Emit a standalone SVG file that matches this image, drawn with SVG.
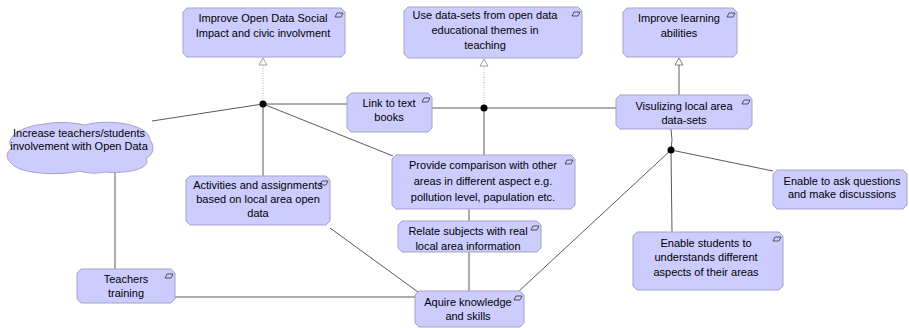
<svg xmlns="http://www.w3.org/2000/svg" xmlns:xlink="http://www.w3.org/1999/xlink" width="909" height="328" viewBox="0 0 909 328">
  <style>
    .node { fill: #ccccff; stroke: #a3a3c8; stroke-width: 1; }
    .lbl { font-family: "Liberation Sans", Arial, sans-serif; font-size: 11px; fill: #000; text-anchor: middle; }
    .ln { stroke: #5a5a5a; stroke-width: 1; fill: none; }
    .dot { stroke: #b0b0b0; stroke-width: 1; fill: none; stroke-dasharray: 1 1.5; }
    .icon { fill: none; stroke: #333; stroke-width: 0.8; }
  </style>
  <defs>
    <!-- requirement icon shown in the upper-right corner of a box -->
    <path id="req" class="icon" d="M -8,5 L -6,1 L 0,1 L -2,5 Z"/>
  </defs>

  <g id="connectors">
    <!-- realisation links up to the goals -->
    <line class="dot" x1="263" y1="104" x2="263" y2="59"/>
    <path d="M 263,58 L 267,65 L 259,65 Z" fill="#fff" stroke="#888" stroke-width="0.8"/>
    <line class="dot" x1="484" y1="108" x2="484" y2="60"/>
    <path d="M 484,59 L 488,66 L 480,66 Z" fill="#fff" stroke="#888" stroke-width="0.8"/>
    <line class="ln" x1="679" y1="95" x2="679" y2="59"/>
    <path d="M 679,58 L 683,65 L 675,65 Z" fill="#fff" stroke="#666" stroke-width="0.8"/>

    <!-- junction left -->
    <line class="ln" x1="152" y1="121" x2="263" y2="104"/>
    <line class="ln" x1="263" y1="104" x2="347" y2="104"/>
    <line class="ln" x1="263" y1="104" x2="393" y2="156"/>
    <line class="ln" x1="263" y1="104" x2="263" y2="176"/>

    <!-- junction middle -->
    <line class="ln" x1="432" y1="108" x2="616" y2="108"/>
    <line class="ln" x1="484" y1="108" x2="484" y2="155"/>

    <!-- junction right -->
    <path class="ln" d="M 671,129 Q 673,140 671,150"/>
    <line class="ln" x1="671" y1="150" x2="773" y2="171"/>
    <line class="ln" x1="671" y1="150" x2="672" y2="232"/>
    <line class="ln" x1="671" y1="150" x2="518" y2="292"/>

    <!-- lower links -->
    <line class="ln" x1="469" y1="209" x2="469" y2="221"/>
    <line class="ln" x1="469" y1="252" x2="469" y2="291"/>
    <line class="ln" x1="330" y1="228" x2="418" y2="292"/>
    <line class="ln" x1="115" y1="172" x2="115" y2="269"/>
    <line class="ln" x1="175" y1="297" x2="415" y2="297"/>
  </g>

  <g id="junctions">
    <circle cx="263" cy="104" r="3.5" fill="#000"/>
    <circle cx="484" cy="108" r="3.5" fill="#000"/>
    <circle cx="671" cy="150" r="3.5" fill="#000"/>
  </g>

  <g id="goal-social-impact">
    <polygon class="node" points="187,8 341,8 345,12 345,53 341,57 187,57 183,53 183,12"/>
    <use xlink:href="#req" x="343" y="12"/>
    <text class="lbl" x="263" y="22">Improve Open Data Social</text>
    <text class="lbl" x="263" y="37">Impact and civic involvment</text>
  </g>

  <g id="goal-datasets-teaching">
    <polygon class="node" points="408,7 578,7 582,11 582,54 578,58 408,58 404,54 404,11"/>
    <use xlink:href="#req" x="580" y="11"/>
    <text class="lbl" x="485" y="19">Use data-sets from open data</text>
    <text class="lbl" x="485" y="34">educational themes in</text>
    <text class="lbl" x="485" y="49">teaching</text>
  </g>

  <g id="goal-learning">
    <polygon class="node" points="627,8 733,8 737,12 737,53 733,57 627,57 623,53 623,12"/>
    <use xlink:href="#req" x="735" y="12"/>
    <text class="lbl" x="679" y="22">Improve learning</text>
    <text class="lbl" x="679" y="37">abilities</text>
  </g>

  <g id="driver-involvement">
    <path class="node" d="M 12,148 C 4,138 20,126 45,124 C 60,121 75,123 85,125 C 110,118 150,125 150,140 C 156,148 152,156 146,158 C 152,168 130,174 105,172 C 95,174 85,173 80,171 C 60,176 20,174 12,164 C 5,158 6,152 12,148 Z"/>
    <text class="lbl" x="79" y="137">Increase teachers/students</text>
    <text class="lbl" x="79" y="150">involvement with Open Data</text>
  </g>

  <g id="req-textbooks">
    <polygon class="node" points="351,93 428,93 432,97 432,128 428,132 351,132 347,128 347,97"/>
    <use xlink:href="#req" x="430" y="97"/>
    <text class="lbl" x="389" y="107">Link to text</text>
    <text class="lbl" x="389" y="121">books</text>
  </g>

  <g id="req-visualizing">
    <polygon class="node" points="620,95 748,95 752,99 752,125 748,129 620,129 616,125 616,99"/>
    <use xlink:href="#req" x="750" y="99"/>
    <text class="lbl" x="684" y="110">Visulizing local area</text>
    <text class="lbl" x="684" y="124">data-sets</text>
  </g>

  <g id="req-questions">
    <polygon class="node" points="777,170 903,170 907,174 907,205 903,209 777,209 773,205 773,174"/>
    <text class="lbl" x="842" y="185">Enable to ask questions</text>
    <text class="lbl" x="842" y="198">and make discussions</text>
  </g>

  <g id="req-comparison">
    <polygon class="node" points="396,155 571,155 575,159 575,205 571,209 396,209 392,205 392,159"/>
    <use xlink:href="#req" x="573" y="159"/>
    <text class="lbl" x="483" y="169">Provide comparison with other</text>
    <text class="lbl" x="483" y="185">areas in different aspect e.g.</text>
    <text class="lbl" x="483" y="201">pollution level, papulation etc.</text>
  </g>

  <g id="req-relate">
    <polygon class="node" points="402,221 537,221 541,225 541,248 537,252 402,252 398,248 398,225"/>
    <use xlink:href="#req" x="539" y="225"/>
    <text class="lbl" x="468" y="235">Relate subjects with real</text>
    <text class="lbl" x="468" y="250">local area information</text>
  </g>

  <g id="req-activities">
    <polygon class="node" points="190,176 326,176 330,180 330,221 326,225 190,225 186,221 186,180"/>
    <use xlink:href="#req" x="328" y="180"/>
    <text class="lbl" x="258" y="189">Activities and assignments</text>
    <text class="lbl" x="258" y="203">based on local area open</text>
    <text class="lbl" x="258" y="217">data</text>
  </g>

  <g id="req-training">
    <polygon class="node" points="81,269 171,269 175,273 175,299 171,303 81,303 77,299 77,273"/>
    <use xlink:href="#req" x="173" y="273"/>
    <text class="lbl" x="126" y="283">Teachers</text>
    <text class="lbl" x="126" y="297">training</text>
  </g>

  <g id="req-knowledge">
    <polygon class="node" points="419,291 520,291 524,295 524,323 520,327 419,327 415,323 415,295"/>
    <use xlink:href="#req" x="522" y="295"/>
    <text class="lbl" x="468" y="306">Aquire knowledge</text>
    <text class="lbl" x="468" y="320">and skills</text>
  </g>

  <g id="req-understand">
    <polygon class="node" points="637,232 779,232 783,236 783,286 779,290 637,290 633,286 633,236"/>
    <use xlink:href="#req" x="781" y="236"/>
    <text class="lbl" x="706" y="247">Enable students to</text>
    <text class="lbl" x="706" y="261">understands different</text>
    <text class="lbl" x="706" y="276">aspects of their areas</text>
  </g>
</svg>
